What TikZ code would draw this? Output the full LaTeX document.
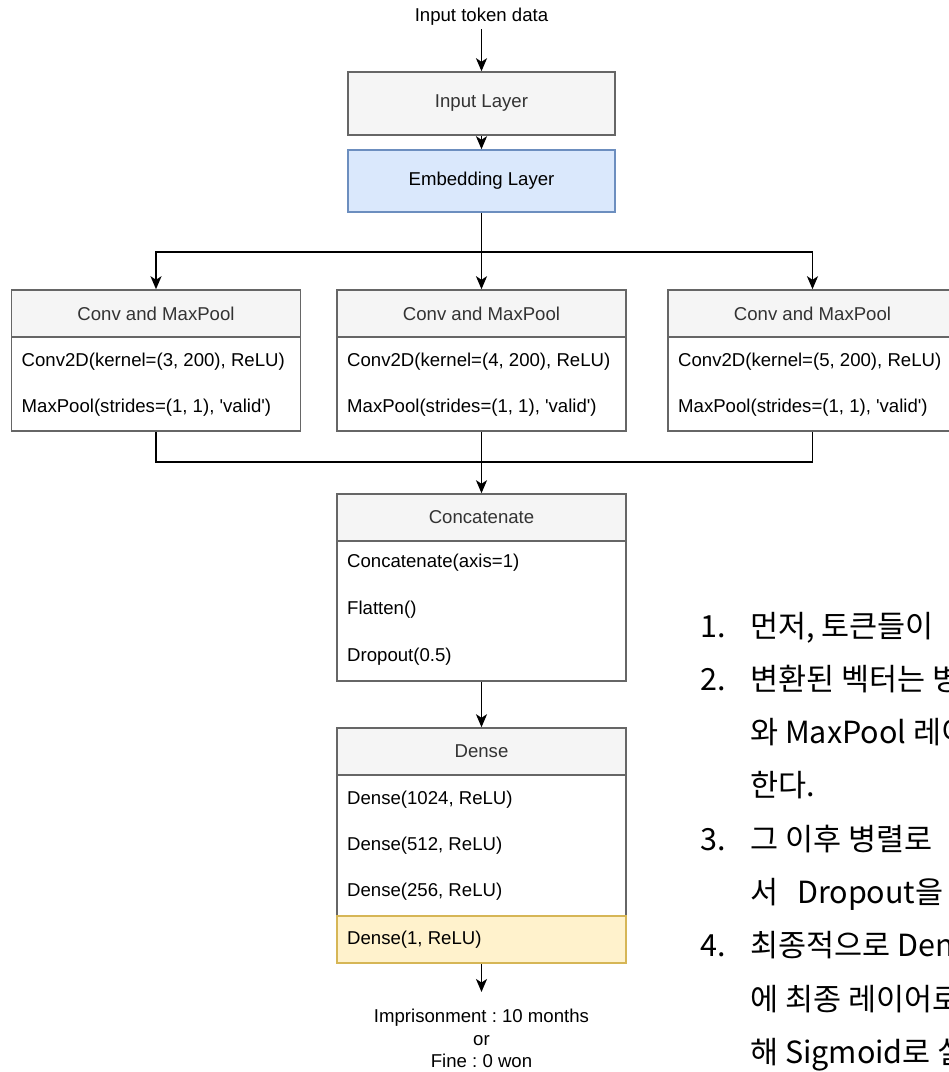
\documentclass[tikz,border=0pt]{standalone}
\usepackage{fontspec}
\setmainfont{Liberation Sans}[Ligatures=TeXOff]
\newfontfamily\kr{Noto Sans CJK KR}
\usetikzlibrary{arrows.meta}
\definecolor{boxfill}{HTML}{F5F5F5}
\definecolor{boxline}{HTML}{666666}
\definecolor{hdrtext}{HTML}{333333}
\definecolor{embfill}{HTML}{DAE8FC}
\definecolor{embline}{HTML}{6C8EBF}
\definecolor{outfill}{HTML}{FFF2CC}
\definecolor{outline}{HTML}{D6B656}
\frenchspacing
\begin{document}
\begin{tikzpicture}[x=1pt,y=-1pt,
  lbl/.style={font=\fontsize{18.6}{22.5}\selectfont},
  hdr/.style={lbl, draw=boxline, fill=boxfill, text=hdrtext, line width=1.5pt, minimum width=289pt, minimum height=47pt, inner sep=0pt},
  body/.style={draw=boxline, fill=white, line width=1.5pt, minimum width=289pt, inner sep=0pt},
  row/.style={lbl, anchor=west, inner sep=0pt},
  flow/.style={-{Stealth[length=13pt,width=11pt,inset=3.5pt]}, line width=1.8pt},
  note/.style={font=\kr\fontsize{30.5}{34}\selectfont, anchor=base west, inner sep=0pt}]
\useasboundingbox (0,0) rectangle (949,1072);
\clip (0,0) rectangle (949,1072);
% input and embedding
\node[lbl] (tok) at (481.5,17) {Input token data};
\node[hdr, minimum width=267pt, minimum height=63pt] (il) at (481.5,103.5) {Input Layer};
\node[hdr, draw=embline, fill=embfill, text=black, minimum width=267pt, minimum height=62pt] (el) at (481.5,181) {Embedding Layer};
\draw[flow] (tok) -- (il);
\draw[flow] (il) -- (el);
% three conv branches
\foreach \x/\k/\n in {156/3/c1, 481.5/4/c2, 812.5/5/c3} {
  \node[body, minimum height=94pt] (\n) at (\x,384) {};
  \node[hdr] (\n h) at (\x,313.5) {Conv and MaxPool};
  \node[row] (\n a) at (\x-134.5,362) {Conv2D(kernel=(\k, 200), ReLU)};
  \node[row] (\n b) at (\x-134.5,408) {MaxPool(strides=(1, 1), 'valid')};
}
\coordinate (sp) at (481.5,252);
\coordinate (mg) at (481.5,462);
\draw[flow] (el) -- (c2h);
\draw[flow] (sp) -| (c1h);
\draw[flow] (sp) -| (c3h);
% concatenate
\node[body, minimum height=140pt] (cc) at (481.5,611) {};
\node[hdr] (cch) at (481.5,517.5) {Concatenate};
\node[row] (cc1) at (347,563) {Concatenate(axis=1)};
\node[row] (cc2) at (347,610) {Flatten()};
\node[row] (cc3) at (347,657) {Dropout(0.5)};
\draw[line width=1.8pt] (c1) |- (mg);
\draw[line width=1.8pt] (c3) |- (mg);
\draw[flow] (c2) -- (cch);
% dense
\node[body, minimum height=141pt] (d) at (481.5,845.5) {};
\node[hdr] (dh) at (481.5,751.5) {Dense};
\node[row] (d1) at (347,800) {Dense(1024, ReLU)};
\node[row] (d2) at (347,846) {Dense(512, ReLU)};
\node[row] (d3) at (347,892) {Dense(256, ReLU)};
\node[body, draw=outline, fill=outfill, minimum height=47pt] (dl) at (481.5,939.5) {};
\node[row] (d4) at (347,939.5) {Dense(1, ReLU)};
\draw[flow] (cc) -- (dh);
\node[lbl, align=center, anchor=north, inner xsep=0pt, inner ysep=17pt] (out) at (481.5,992) {Imprisonment : 10 months\\or\\Fine : 0 won};
\draw[flow] (dl) -- (out);
% notes on the right
\foreach \t [count=\i] in {{먼저, 토큰들이}, {변환된 벡터는 병}, {와 MaxPool 레이어}, {한다.}, {그 이후 병렬로}, {서\hspace{12pt} Dropout을}, {최종적으로 Dense}, {에 최종 레이어로}, {해 Sigmoid로 실}}
  \node[note] (k\i) at (750,637+53.3*\i-53.3) {\t};
\foreach \n/\i in {1/1, 2/2, 3/5, 4/7}
  \node[note] (n\n) at (700,637+53.3*\i-53.3) {\n.};
\end{tikzpicture}
\end{document}
